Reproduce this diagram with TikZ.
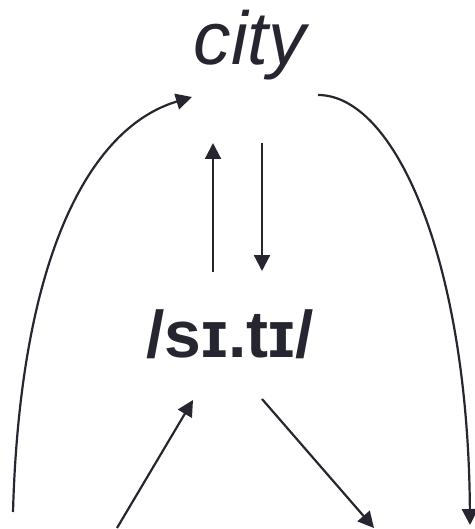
\documentclass[tikz,border=0pt]{standalone}
\usepackage{fontspec}
\setmainfont{Liberation Sans}
\usepackage{xcolor}
\usetikzlibrary{arrows.meta}
\usetikzlibrary{positioning}
\definecolor{inkdark}{RGB}{38,38,48}

\begin{document}
\begin{tikzpicture}[
		x=1pt, y=-1pt,
		word/.style={inner sep=0pt, anchor=base, text=inkdark, font=\itshape\fontsize{75}{90}\selectfont},
		sound/.style={inner sep=0pt, anchor=base, text=inkdark, font=\bfseries\fontsize{66}{78}\selectfont},
		link/.style={draw=inkdark, line width=2.2pt, -{Triangle[length=16pt, width=16pt]}},
		]
		\useasboundingbox (0,0) rectangle (474,529);

		\node[word]  (city) at (250, 65) {city};
		\node[sound] (ipa)  at (230, 357) {/sɪ.tɪ/};

		% ends of the connectors
		\coordinate (lb) at (13, 512);
		\coordinate (lt) at (192, 97);
		\coordinate (rt) at (318, 95);
		\coordinate (rb) at (470, 525);
		\coordinate (up1) at (213, 272);
		\coordinate (up2) at (213, 143);
		\coordinate (dn1) at (262, 143);
		\coordinate (dn2) at (262, 271);
		\coordinate (in1) at (117, 528);
		\coordinate (in2) at (193, 400);
		\coordinate (out1) at (262, 399);
		\coordinate (out2) at (374, 528);

		\draw[link] (lb) .. controls (20, 260) and (88, 128) .. (lt);
		\draw[link] (rt) .. controls (395, 95) and (468, 260) .. (rb);
		\draw[link] (up1) to (up2);
		\draw[link] (dn1) to (dn2);
		\draw[link] (in1) to (in2);
		\draw[link] (out1) to (out2);

\end{tikzpicture}
\end{document}
